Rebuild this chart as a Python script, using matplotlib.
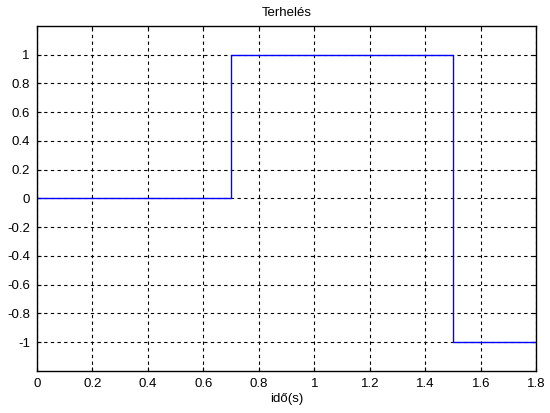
import matplotlib
matplotlib.use("Agg")
import matplotlib.pyplot as plt
import numpy as np

# step load: time points and values
ido = [0.0, 0.7, 0.7, 1.5, 1.5, 1.8]
terheles = [0, 0, 1, 1, -1, -1]

xticks = [0, 0.2, 0.4, 0.6, 0.8, 1, 1.2, 1.4, 1.6, 1.8]
yticks = [-1, -0.8, -0.6, -0.4, -0.2, 0, 0.2, 0.4, 0.6, 0.8, 1]

plt.rcParams['font.family'] = ['Liberation Sans', 'DejaVu Sans']
plt.rcParams['font.size'] = 9

fig = plt.figure(figsize=(5.5, 4.13), dpi=100)
ax = fig.add_axes([0.067, 0.102, 0.908, 0.835])

ax.plot(ido, terheles, color='blue', linewidth=1)

ax.set_xlim(0, 1.8)
ax.set_ylim(-1.2, 1.2)
ax.set_xticks(xticks)
ax.set_xticklabels([f"{v:g}" for v in xticks])
ax.set_yticks(yticks)
ax.set_yticklabels([f"{v:g}" for v in yticks])
ax.grid(True, color='black', linestyle=(0, (3, 3)), linewidth=0.8)
ax.tick_params(direction='in', length=3, top=True, right=True, labelsize=9.5, pad=5)
for s in ax.spines.values():
    s.set_linewidth(1)

ax.set_title('Terhelés', fontsize=9.5, pad=7)
ax.set_xlabel('idő(s)', fontsize=9.5, labelpad=2)

fig.savefig('out.png', dpi=100)
